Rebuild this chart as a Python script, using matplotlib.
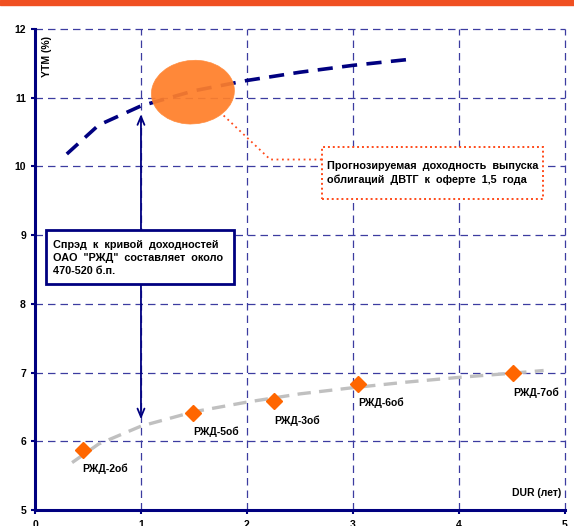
import matplotlib.pyplot as plt
from matplotlib.patches import Ellipse, Rectangle

plt.rcParams['font.family'] = ['Liberation Sans', 'DejaVu Sans']
plt.rcParams['font.weight'] = 'bold'

# бумаги РЖД: дюрация (лет) и доходность (%)
bond_names = ['РЖД-2об', 'РЖД-5об', 'РЖД-3об', 'РЖД-6об', 'РЖД-7об']
bond_dur = [0.45, 1.49, 2.26, 3.05, 4.51]
bond_ytm = [5.87, 6.41, 6.58, 6.84, 6.99]

# кривая доходности РЖД (серая) по точкам с картинки
rzd_x = [0.35, 0.6, 1.0, 1.5, 2.0, 2.5, 3.0, 3.5, 4.0, 4.5, 4.8]
rzd_y = [5.69, 5.96, 6.22, 6.43, 6.57, 6.69, 6.78, 6.86, 6.93, 6.99, 7.03]

# кривая ДВТГ (синяя)
dvtg_x = [0.3, 0.6, 1.0, 1.5, 2.0, 2.5, 3.0, 3.55]
dvtg_y = [10.18, 10.6, 10.88, 11.1, 11.25, 11.37, 11.47, 11.56]

# прогноз и стрелка спрэда
forecast_dur, forecast_ytm = 1.49, 11.08
spread_x, spread_lo, spread_hi = 1.0, 6.28, 10.80

navy = '#000080'
orange = '#FF6600'
dotred = '#FF4A1A'

fig = plt.figure(figsize=(5.74, 5.26), dpi=100)
ax = fig.add_axes([0.061, 0.0304, 0.923, 0.9146])

# полоска заголовка сверху
fig.patches.append(Rectangle((0, 0.99), 1, 0.01, transform=fig.transFigure,
                             color='#F05022', zorder=0))

ax.set_xlim(0, 5)
ax.set_ylim(5, 12)
ax.set_xticks(range(0, 6))
ax.set_yticks(range(5, 13))

for v in range(1, 6):
    ax.axvline(v, color='#3C3CA0', lw=0.9, dashes=(6, 4), zorder=1, clip_on=False)
for v in range(6, 13):
    ax.axhline(v, color='#3C3CA0', lw=0.9, dashes=(6, 4), zorder=1, clip_on=False)

for s in ['top', 'right']:
    ax.spines[s].set_visible(False)
for s in ['left', 'bottom']:
    ax.spines[s].set_color(navy)
    ax.spines[s].set_linewidth(2.2)
ax.tick_params(colors=navy, width=1.5, length=3, labelsize=7.5, labelcolor='black')
ax.tick_params(axis='x', pad=4)

ax.plot(rzd_x, rzd_y, color='#C0C0C0', lw=2.4, dashes=(4, 2.5), zorder=2)
ax.plot(dvtg_x, dvtg_y, color=navy, lw=2.6, dashes=(4.2, 2.6), zorder=2)

ax.plot(bond_dur, bond_ytm, 'D', color=orange, ms=8, mec=orange, zorder=4)
for name, x, y in zip(bond_names, bond_dur, bond_ytm):
    ax.annotate(name, (x, y), xytext=(0, -19), textcoords='offset pixels',
                ha='left', va='center', fontsize=7.5, fontweight='bold')

ax.add_patch(Ellipse((forecast_dur, forecast_ytm), 0.78, 0.93, angle=-8,
                     facecolor='#FF7F2A', edgecolor='#FF8A3A', lw=0.5,
                     alpha=0.93, zorder=3))

ax.annotate('', xy=(spread_x, spread_hi), xytext=(spread_x, spread_lo),
            arrowprops=dict(arrowstyle='<->,head_length=0.6,head_width=0.25',
                            color=navy, lw=1.3), zorder=3)

# пунктир от эллипса к подписи
ax.plot([1.78, 2.22, 2.71], [10.74, 10.1, 10.1], color=dotred, lw=1.3,
        ls=(0, (1, 2)), zorder=3)

# рамка прогноза
ax.add_patch(Rectangle((2.71, 9.53), 2.08, 0.75, facecolor='white',
                       edgecolor=dotred, lw=1.4, ls=(0, (1, 1.5)), zorder=5))
ax.text(2.76, 9.905, 'Прогнозируемая  доходность  выпуска\nоблигаций  ДВТГ  к  оферте  1,5  года',
        fontsize=7.8, fontweight='bold', va='center', ha='left', linespacing=1.45,
        zorder=6)

# рамка спрэда
ax.add_patch(Rectangle((0.10, 8.29), 1.78, 0.79, facecolor='white',
                       edgecolor=navy, lw=2, zorder=5))
ax.text(0.17, 8.67, 'Спрэд  к  кривой  доходностей\nОАО  "РЖД"  составляет  около\n470-520 б.п.',
        fontsize=7.8, fontweight='bold', va='center', ha='left', linespacing=1.35,
        zorder=6)

ax.text(4.97, 5.25, 'DUR (лет)', fontsize=7.5, fontweight='bold', ha='right', va='center')
ax.text(0.11, 11.6, 'YTM (%)', fontsize=7.5, fontweight='bold', rotation=90,
        ha='center', va='center')

fig.savefig('out.png', dpi=100)
